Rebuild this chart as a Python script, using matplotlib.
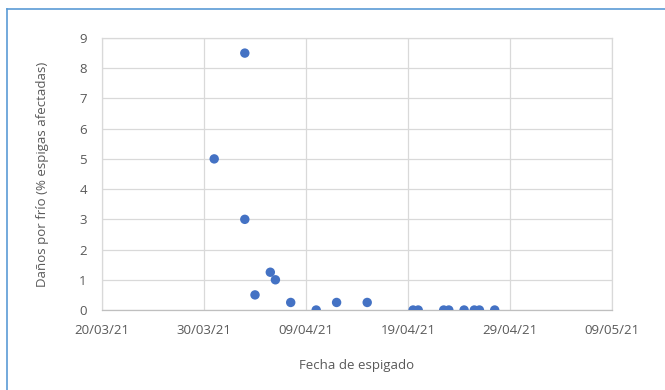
import matplotlib
matplotlib.use("Agg")
import matplotlib.pyplot as plt
import matplotlib.dates as mdates
from matplotlib.lines import Line2D
import datetime as dt

# Data: days after 20/03/21 (fecha de espigado) and cold damage (% espigas afectadas)
base_date = "2021-03-20"
days_offset = [11, 14, 14, 15, 16.5, 17, 18.5, 21, 23, 26, 30.5, 31, 33.5, 34, 35.5, 36.5, 37, 38.5]
damage = [5, 8.5, 3, 0.5, 1.25, 1.0, 0.25, 0, 0.25, 0.25, 0, 0, 0, 0, 0, 0, 0, 0]
x_tick_labels = ["20/03/21", "30/03/21", "09/04/21", "19/04/21", "29/04/21", "09/05/21"]
y_ticks = [0, 1, 2, 3, 4, 5, 6, 7, 8, 9]

plt.rcParams['font.family'] = ['Open Sans', 'DejaVu Sans']

b = dt.datetime.strptime(base_date, "%Y-%m-%d")
x_dates = [b + dt.timedelta(days=d) for d in days_offset]
tick_dates = [dt.datetime.strptime(s, "%d/%m/%y") for s in x_tick_labels]

fig = plt.figure(figsize=(6.65, 3.9), dpi=100)
ax = fig.add_axes([0.1534, 0.2051, 0.9203 - 0.1534, 0.9026 - 0.2051])

ax.scatter(x_dates, damage, s=46, color="#4472C4", zorder=3, edgecolors="none")

ax.set_xlim(tick_dates[0], tick_dates[-1])
ax.set_ylim(0, 9)
ax.set_xticks(tick_dates)
ax.set_xticklabels(x_tick_labels)
ax.set_yticks(y_ticks)

ax.grid(True, color="#d9d9d9", linewidth=0.9)
ax.set_axisbelow(True)
for s in ax.spines.values():
    s.set_color("#d9d9d9")
    s.set_linewidth(0.9)
ax.spines['bottom'].set_color("#bfbfbf")

ax.tick_params(axis='both', length=0, colors="#595959", labelsize=9.5)
ax.tick_params(axis='x', pad=10)
ax.tick_params(axis='y', pad=11)
for lbl in ax.get_xticklabels() + ax.get_yticklabels():
    lbl.set_fontweight("medium")

ax.set_xlabel("Fecha de espigado", fontsize=9.5, color="#595959", labelpad=16)
ax.set_ylabel("Daños por frío (% espigas afectadas)", fontsize=9.5, color="#595959", labelpad=22)

# outer blue frame lines (top and left)
fig.add_artist(Line2D([7/665, 1.0], [1 - 9/390, 1 - 9/390], color="#5B9BD5", linewidth=1.2, transform=fig.transFigure))
fig.add_artist(Line2D([7/665, 7/665], [0.0, 1 - 9/390], color="#5B9BD5", linewidth=1.2, transform=fig.transFigure))

fig.savefig("out.png", dpi=100)
